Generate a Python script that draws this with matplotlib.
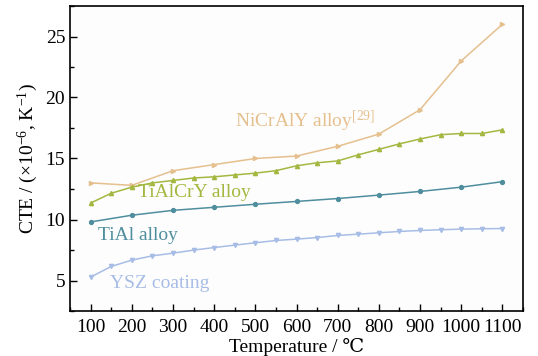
import matplotlib
matplotlib.use("Agg")
import matplotlib.pyplot as plt
from matplotlib.ticker import MultipleLocator

plt.rcParams['font.family'] = ['Liberation Serif', 'DejaVu Serif']
plt.rcParams['mathtext.fontset'] = 'custom'
plt.rcParams['mathtext.rm'] = 'Liberation Serif'
plt.rcParams['mathtext.it'] = 'Liberation Serif:italic'

# Data
temp_100 = [100, 200, 300, 400, 500, 600, 700, 800, 900, 1000, 1100]
temp_50 = [100, 150, 200, 250, 300, 350, 400, 450, 500, 550, 600, 650, 700,
           750, 800, 850, 900, 950, 1000, 1050, 1100]
nicraly = [13.0, 12.8, 14.0, 14.5, 15.0, 15.2, 16.0, 17.0, 19.0, 23.0, 26.0]
tialcry = [11.35, 12.15, 12.65, 13.0, 13.2, 13.4, 13.5, 13.65, 13.8, 14.0, 14.4,
           14.65, 14.8, 15.3, 15.75, 16.2, 16.6, 16.95, 17.05, 17.05, 17.35]
tial = [9.8, 10.35, 10.75, 11.0, 11.25, 11.48, 11.72, 12.0, 12.3, 12.65, 13.1]
ysz = [5.28, 6.15, 6.67, 7.02, 7.24, 7.49, 7.7, 7.9, 8.09, 8.28, 8.39, 8.52,
       8.69, 8.8, 8.91, 9.02, 9.1, 9.16, 9.21, 9.24, 9.26]
xticks = [100, 200, 300, 400, 500, 600, 700, 800, 900, 1000, 1100]
yticks = [5, 10, 15, 20, 25]

c_ni = '#E5C08E'
c_cr = '#A3B840'
c_ti = '#4F8E9E'
c_ysz = '#A7BDE6'

fig = plt.figure(figsize=(5.38, 3.56), dpi=100)
ax = fig.add_axes([70/538, 1 - 311/356, (523-70)/538, (311-6)/356])
ax.set_facecolor('#FDFDFD')

ax.plot(temp_100, nicraly, color=c_ni, lw=1.1, marker='>', ms=3)
ax.plot(temp_50, tialcry, color=c_cr, lw=1.1, marker='^', ms=3)
ax.plot(temp_100, tial, color=c_ti, lw=1.1, marker='o', ms=2.8)
ax.plot(temp_50, ysz, color=c_ysz, lw=1.1, marker='v', ms=3)

ax.text(451, 18.0, 'NiCrAlY alloy$^{[29]}$', color=c_ni, fontsize=14, va='center', ha='left')
ax.text(214, 12.25, 'TiAlCrY alloy', color=c_cr, fontsize=14, va='center', ha='left')
ax.text(119, 8.65, 'TiAl alloy', color=c_ti, fontsize=14, va='center', ha='left')
ax.text(148, 4.75, 'YSZ coating', color=c_ysz, fontsize=14, va='center', ha='left')

ax.set_xlim(50, 1150)
ax.set_ylim(2.5, 27.5)
ax.set_xticks(xticks)
ax.set_yticks(yticks)
ax.xaxis.set_minor_locator(MultipleLocator(50))
ax.yaxis.set_minor_locator(MultipleLocator(2.5))
ax.tick_params(which='both', direction='in', width=1, labelsize=14)
ax.tick_params(which='major', length=5)
ax.tick_params(which='minor', length=3)
ax.tick_params(axis='x', pad=6)
for s in ax.spines.values():
    s.set_linewidth(1.2)

ax.set_xlabel('Temperature / ℃', fontsize=14, labelpad=1)
ax.set_ylabel('CTE / (×10$^{-6}$, K$^{-1}$)', fontsize=14, labelpad=4)

fig.savefig('out.png', dpi=100, facecolor='white')
